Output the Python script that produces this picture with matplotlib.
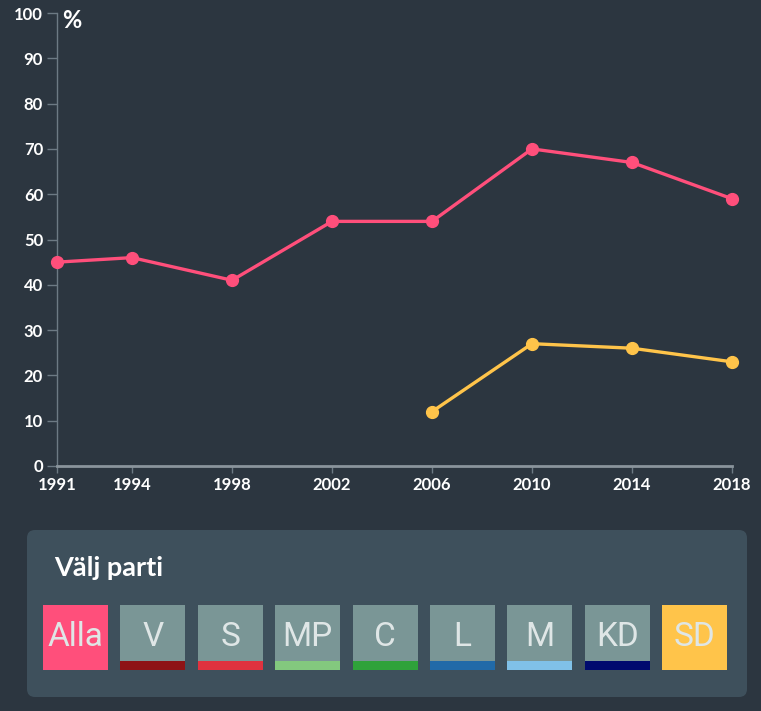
import matplotlib
matplotlib.use("Agg")
import matplotlib.pyplot as plt
from matplotlib.patches import FancyBboxPatch, Rectangle

years = [1991, 1994, 1998, 2002, 2006, 2010, 2014, 2018]
alla_values = [45, 46, 41, 54, 54, 70, 67, 59]
sd_years = [2006, 2010, 2014, 2018]
sd_values = [12, 27, 26, 23]
y_ticks = [0, 10, 20, 30, 40, 50, 60, 70, 80, 90, 100]

parties = ["Alla", "V", "S", "MP", "C", "L", "M", "KD", "SD"]
party_colors = ["#ff4f7b", "#8e1316", "#e0323f", "#83c87e", "#2fa23a",
                "#216aa8", "#80c1e8", "#000a6e", "#ffc44a"]
active = {"Alla": "#ff4f7b", "SD": "#ffc44a"}

BG = "#2c3640"
PANEL = "#3e505c"
BTN = "#7a9696"
AXC = "#6d7a84"
PINK = "#ff4f7b"
YELLOW = "#ffc44a"

W, H = 761, 711
fig = plt.figure(figsize=(W / 100, H / 100), dpi=100, facecolor=BG)

# overlay for UI panel in pixel coordinates
ov = fig.add_axes([0, 0, 1, 1], zorder=0)
ov.set_xlim(0, W)
ov.set_ylim(H, 0)
ov.axis("off")
ov.add_patch(FancyBboxPatch((27, 530), 720, 167, boxstyle="round,pad=0,rounding_size=8",
                            facecolor=PANEL, edgecolor="none"))
ov.text(54, 568, "Välj parti", color="white", fontsize=19.5, fontweight="bold",
        family="Lato", va="center", ha="left")
bx0, step, bw, bh = 43, 77.4, 65, 65
for i, (p, c) in enumerate(zip(parties, party_colors)):
    x = bx0 + i * step
    if p in active:
        ov.add_patch(Rectangle((x, 605), bw, bh, facecolor=active[p], edgecolor="none"))
    else:
        ov.add_patch(Rectangle((x, 605), bw, bh, facecolor=BTN, edgecolor="none"))
        ov.add_patch(Rectangle((x, 661), bw, 9, facecolor=c, edgecolor="none"))
    ov.text(x + bw / 2, 637, p, color="#dfe6e6", fontsize=24, family="Roboto",
            fontweight="normal", ha="center", va="center")

# main chart
ax = fig.add_axes([57 / W, (H - 466) / H, 675 / W, 453 / H], zorder=1)
ax.set_facecolor("none")
ax.plot(years, alla_values, color=PINK, lw=2.4, marker="o", ms=8.5, clip_on=False, zorder=3)
ax.plot(sd_years, sd_values, color=YELLOW, lw=2.4, marker="o", ms=8.5, clip_on=False, zorder=3)
ax.set_xlim(1991, 2018)
ax.set_ylim(0, 100)
ax.set_xticks(years)
ax.set_xticklabels([str(y) for y in years])
ax.set_yticks(y_ticks)
for s in ["top", "right"]:
    ax.spines[s].set_visible(False)
ax.spines["left"].set_color(AXC)
ax.spines["left"].set_linewidth(1)
ax.spines["bottom"].set_color("#8a949c")
ax.spines["bottom"].set_linewidth(2)
ax.tick_params(axis="y", colors=AXC, length=7, width=1, labelcolor="white",
               labelsize=12, pad=3)
ax.tick_params(axis="x", colors=AXC, length=5, width=1, labelcolor="white",
               labelsize=12, pad=3)
for lab in ax.get_xticklabels() + ax.get_yticklabels():
    lab.set_fontweight("bold")
    lab.set_family("Lato")
ax.text(62 / W, 1 - 20 / H, "%", transform=fig.transFigure, color="white",
        fontsize=17, fontweight="bold", family="Lato", va="center", ha="left")

fig.savefig("out.png", dpi=100, facecolor=BG)
